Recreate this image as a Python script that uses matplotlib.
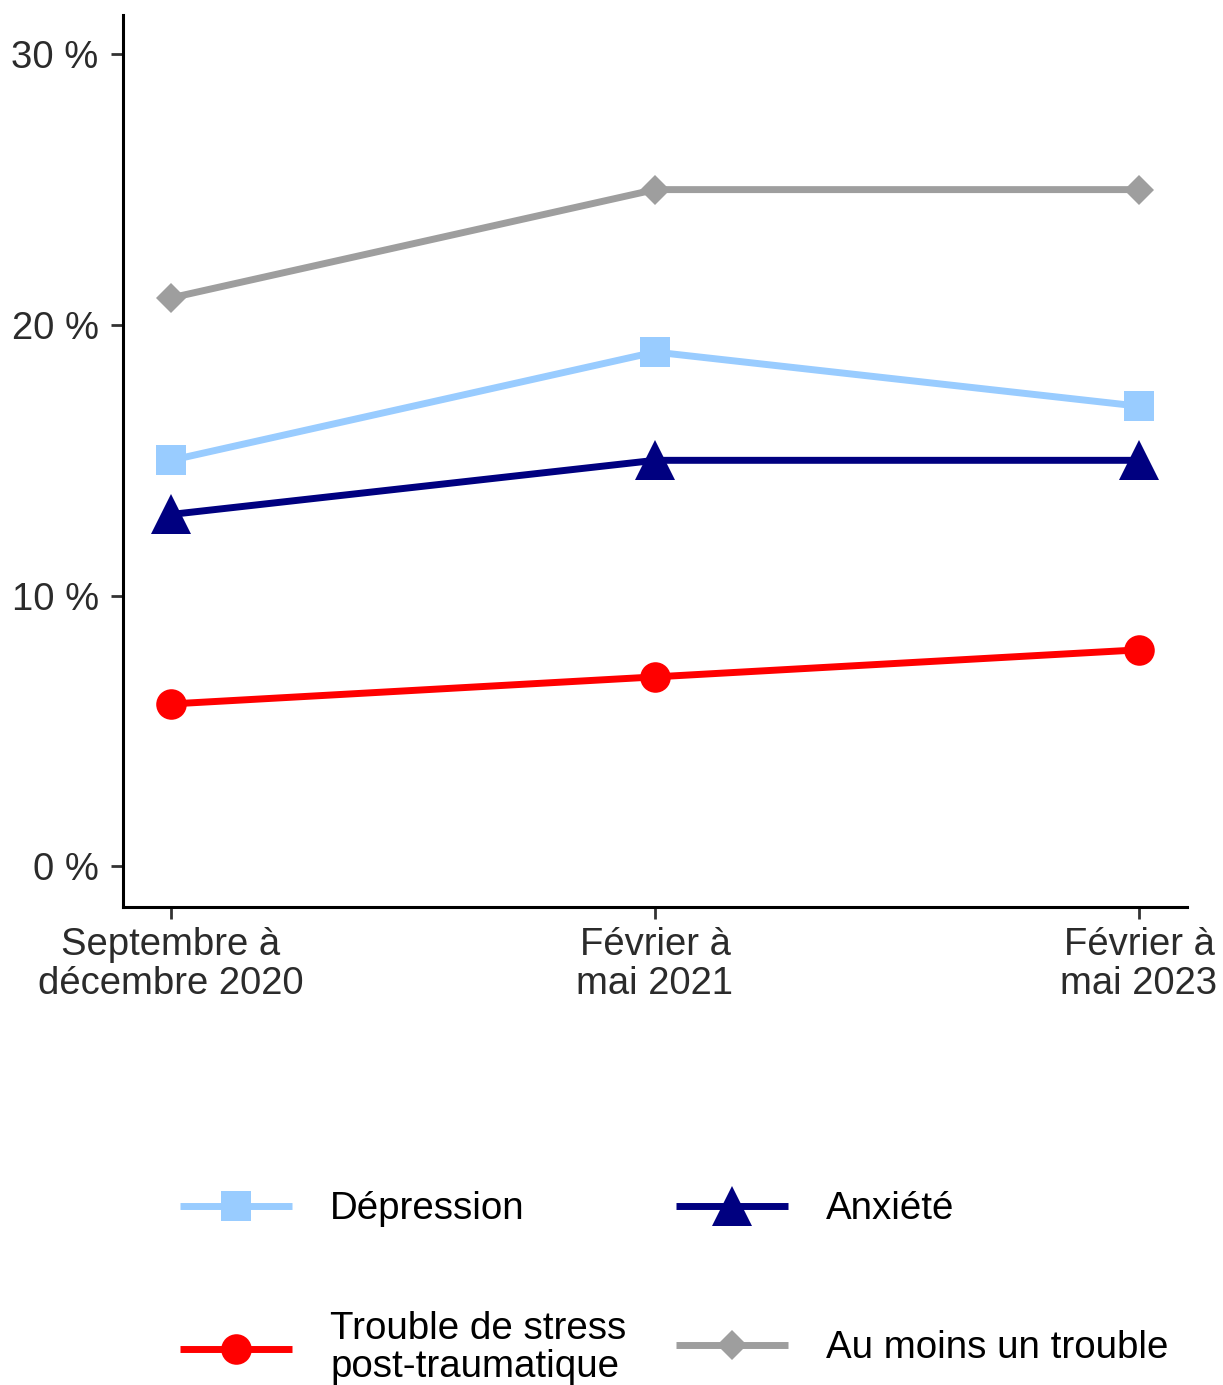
import matplotlib
matplotlib.use("Agg")
import matplotlib.pyplot as plt

plt.rcParams["font.family"] = ["Liberation Sans", "DejaVu Sans"]

# Survey periods and prevalence (%) of each disorder
periods = ["Septembre à\ndécembre 2020", "Février à\nmai 2021", "Février à\nmai 2023"]
depression = [15, 19, 17]
anxiete = [13, 15, 15]
tspt = [6, 7, 8]
au_moins_un = [21, 25, 25]

y_ticks = [0, 10, 20, 30]
y_tick_labels = ["0 %", "10 %", "20 %", "30 %"]

series = [
    ("Dépression", depression, "#99CCFF", "s", 22),
    ("Anxiété", anxiete, "#000080", "^", 29),
    ("Trouble de stress\npost-traumatique", tspt, "#FF0000", "o", 22),
    ("Au moins un trouble", au_moins_un, "#9E9E9E", "D", 15),
]

W, H = 1223, 1385
fig = plt.figure(figsize=(W / 100, H / 100), dpi=100)
ax = fig.add_axes([123 / W, 1 - 907 / H, (1187 - 123) / W, (907 - 15) / H])

x = list(range(1, len(periods) + 1))
handles = {}
for label, values, color, marker, ms in series:
    (ln,) = ax.plot(x, values, color=color, lw=5.0, marker=marker, ms=ms,
                    markeredgewidth=0, solid_capstyle="butt", clip_on=False)
    handles[label] = ln

ax.set_xlim(1 - 48 / 484, 3 + 48 / 484)
ax.set_ylim(-1.5, 31.45)
ax.set_xticks(x)
ax.set_xticklabels(periods, fontsize=27.5, color="#2b2b2b", linespacing=1.12,
                   multialignment="center")
ax.set_yticks(y_ticks)
ax.set_yticklabels(y_tick_labels, fontsize=27.5, color="#2b2b2b")

for side in ("top", "right"):
    ax.spines[side].set_visible(False)
for side in ("left", "bottom"):
    ax.spines[side].set_linewidth(2.2)
    ax.spines[side].set_color("black")
ax.tick_params(axis="both", length=8.5, width=2.0, color="#333333")
ax.tick_params(axis="y", pad=9)
ax.tick_params(axis="x", pad=6)

# Legend laid out as a 2x2 grid
legend_slots = [
    ("Dépression", 180, 1209),
    ("Anxiété", 676, 1209),
    ("Trouble de stress\npost-traumatique", 180, 1348),
    ("Au moins un trouble", 676, 1348),
]
for label, px, py in legend_slots:
    leg = fig.legend([handles[label]], [label], loc="center left",
                     bbox_to_anchor=(px / W, 1 - py / H), frameon=False,
                     fontsize=27.7, handlelength=2.9, handletextpad=1.0,
                     borderpad=0, borderaxespad=0, numpoints=1)
    for t in leg.get_texts():
        t.set_linespacing(1.08)

fig.savefig("out.png", dpi=100, facecolor="white")
